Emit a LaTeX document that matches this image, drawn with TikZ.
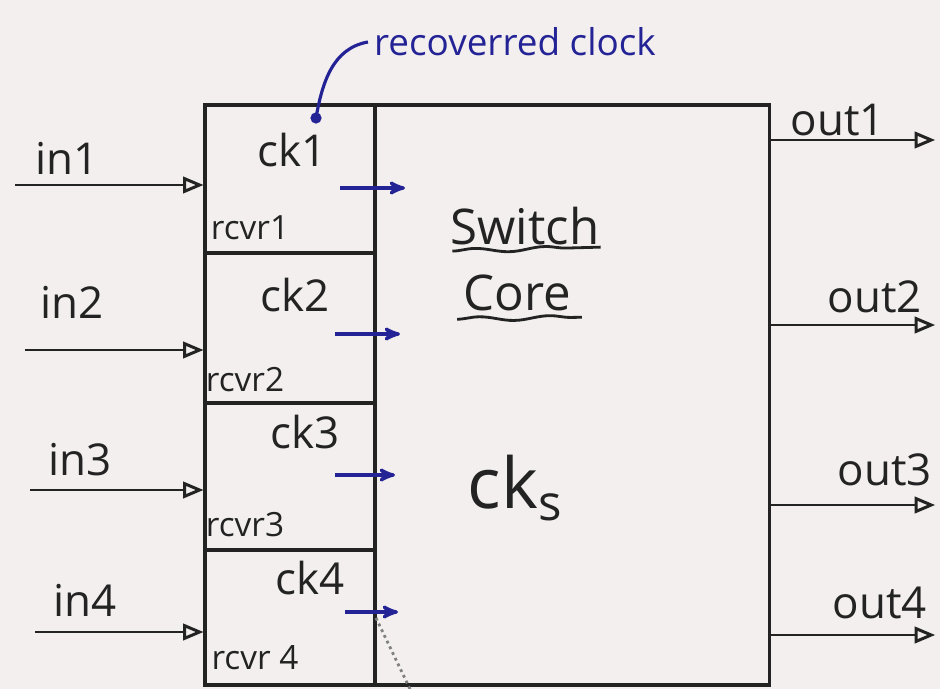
\documentclass[tikz,border=0pt]{standalone}
\usepackage{fontspec}
\setmainfont{Open Sans}
\usepackage{xcolor}
\usetikzlibrary{calc}
\usetikzlibrary{arrows}
\usetikzlibrary{decorations.pathmorphing}
\definecolor{paper}{RGB}{243,239,239}
\definecolor{pen}{RGB}{35,35,35}
\definecolor{ink}{RGB}{35,35,150}
\tikzset{
  sig/.style={pen, line width=1.7pt, ->, >=open triangle 45},
  ckarrow/.style={ink, line width=1.9pt, ->, >=stealth'},
  rcvrbox/.style={draw=pen, line width=1.9pt, minimum width=3.4cm, inner sep=0},
  lbl/.style={pen, font=\fontsize{25}{28}\selectfont},
  small/.style={pen, font=\fontsize{19}{22}\selectfont},
}

\begin{document}
\begin{tikzpicture} [x=0.02cm, y=-0.02cm]
\fill[paper] (0,0) rectangle (940,689);
\useasboundingbox (0,0) rectangle (940,689);

% receivers and core
\node[rcvrbox, minimum height=2.96cm] (r1) at (290,179) {};
\node[rcvrbox, minimum height=3.0cm] (r2) at (290,328) {};
\node[rcvrbox, minimum height=2.94cm] (r3) at (290,476.5) {};
\node[rcvrbox, minimum height=2.7cm] (r4) at (290,617.5) {};
\node[draw=pen, line width=1.9pt, minimum width=7.9cm, minimum height=11.6cm, inner sep=0] (core) at (572,395) {};

\node[lbl] (ck1) at (292,150) {ck1};
\node[lbl] (ck2) at (295,295) {ck2};
\node[lbl] (ck3) at (305,432) {ck3};
\node[lbl] (ck4) at (310,578) {ck4};
\node[small] (rc1) at (250,228) {rcvr1};
\node[small] (rc2) at (245,380) {rcvr2};
\node[small] (rc3) at (245,525) {rcvr3};
\node[small] (rc4) at (255,658) {rcvr 4};

% inputs
\coordinate (in1) at (15,185);
\coordinate (in2) at (25,350);
\coordinate (in3) at (30,490);
\coordinate (in4) at (35,632);
\draw[sig] (in1) -- (in1 -| r1.west);
\draw[sig] (in2) -- (in2 -| r2.west);
\draw[sig] (in3) -- (in3 -| r3.west);
\draw[sig] (in4) -- (in4 -| r4.west);
\node[lbl] (l1) at (67,158) {in1};
\node[lbl] (l2) at (72,302) {in2};
\node[lbl] (l3) at (80,460) {in3};
\node[lbl] (l4) at (85,600) {in4};

% outputs
\coordinate (out1) at (935,140);
\coordinate (out2) at (935,325);
\coordinate (out3) at (935,505);
\coordinate (out4) at (935,635);
\draw[sig] (out1 -| core.east) -- (out1);
\draw[sig] (out2 -| core.east) -- (out2);
\draw[sig] (out3 -| core.east) -- (out3);
\draw[sig] (out4 -| core.east) -- (out4);
\node[lbl] (o1) at (838,120) {out1};
\node[lbl] (o2) at (875,297) {out2};
\node[lbl] (o3) at (885,470) {out3};
\node[lbl] (o4) at (880,603) {out4};

% recovered clocks
\coordinate (a1) at (340,188); \coordinate (b1) at (405,188);
\coordinate (a2) at (335,334); \coordinate (b2) at (400,334);
\coordinate (a3) at (335,475); \coordinate (b3) at (395,475);
\coordinate (a4) at (345,612); \coordinate (b4) at (398,612);
\draw[ckarrow] (a1) -- (b1);
\draw[ckarrow] (a2) -- (b2);
\draw[ckarrow] (a3) -- (b3);
\draw[ckarrow] (a4) -- (b4);

\node[ink, font=\fontsize{21}{24}\selectfont] (rclk) at (515,42) {recoverred clock};
\coordinate (dot) at (316,118);
\draw[ink, line width=1.8pt] (rclk.west) to[out=190, in=80] (dot);
\fill[ink] (dot) circle (3.2pt);

% core text
\node[lbl, font=\fontsize{28}{32}\selectfont] (sw) at (525,226) {Switch};
\node[lbl, font=\fontsize{28}{32}\selectfont] (co) at (517,293) {Core};
\draw[pen, line width=1.6pt, decorate, decoration={snake, amplitude=1.2pt, segment length=40pt}] ($(sw.south west)+(8,0)$) -- ($(sw.south east)+(-5,-4)$);
\draw[pen, line width=1.6pt, decorate, decoration={snake, amplitude=1.2pt, segment length=40pt}] ($(co.south west)+(0,2)$) -- ($(co.south east)+(5,0)$);
\node[lbl, font=\fontsize{40}{44}\selectfont] (cks) at (515,488) {ck\textsubscript{s}};

\draw[gray, dotted, line width=1.6pt] (376,618) -- (410,689);
\end{tikzpicture}
\end{document}
